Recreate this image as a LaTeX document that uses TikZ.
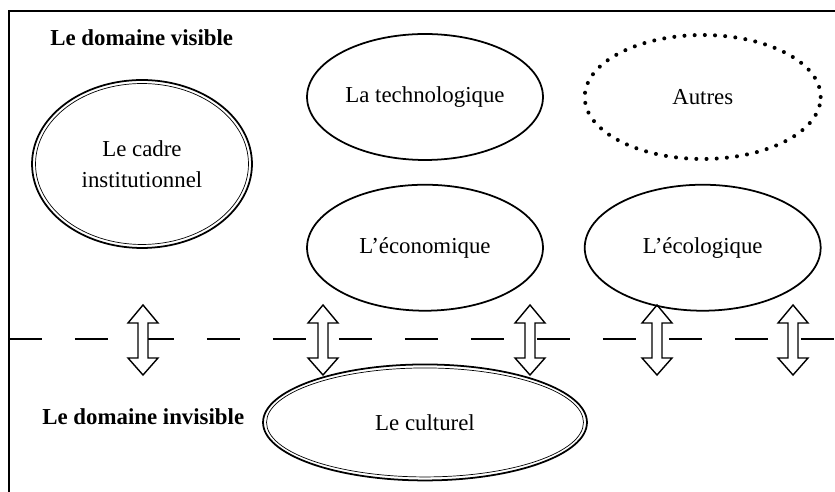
\documentclass[tikz,border=0pt]{standalone}
\usepackage{fontspec}
\setmainfont{Liberation Serif}
\usetikzlibrary{shapes.geometric,positioning}
\pgfmathsetmacro{\ellgap}{0.46}
\pgfmathsetmacro{\ellsep}{0.8}
\tikzset{
  field/.style={ellipse, draw, line width=1pt, inner sep=0pt,
    minimum width=4.72cm, minimum height=2.52cm,
    font=\fontsize{13}{17.6}\selectfont, align=center},
  title/.style={font=\fontsize{13}{15}\selectfont\bfseries, inner sep=0pt},
  sepline/.style={line width=0.75pt, dash pattern=on 0.66cm off 0.66cm},
  twoway/.style={line width=0.8pt, fill=white, line join=miter},
  innerline/.style={line width=0.4pt},
}

\begin{document}
\begin{tikzpicture}[x=0.02cm, y=-0.02cm]
    % page size
    \useasboundingbox (0,0) rectangle (835,492);
    % frame
    \coordinate (frame_tr) at (835,11);
    \coordinate (frame_tl) at (9,11);
    \coordinate (frame_bl) at (9,492);
    \draw[line width=0.9pt] (frame_tr) -- (frame_tl) -- (frame_bl);
    % line between the two domains
    \coordinate (sep_l) at (9,339);
    \coordinate (sep_r) at (835,339);
    \draw[sepline] (sep_l) -- (sep_r);
    % arrows across the line
    \foreach \x in {143,323,530,657,793} {
        \draw[twoway] (\x,305) -- ++(15,18) -- ++(-10,0) -- ++(0,35)
            -- ++(10,0) -- ++(-15,17) -- ++(-15,-17) -- ++(10,0)
            -- ++(0,-35) -- ++(-10,0) -- cycle;
    }
    % domain labels
    \node[title, anchor=base west] (visible_lbl) at (50,46) {Le domaine visible};
    \node[title, anchor=base west] (invisible_lbl) at (42,425) {Le domaine invisible};
    % ellipses
    \node[field, minimum width=4.4cm, minimum height=3.36cm] (cadre) at (142,164)
        {Le cadre\\institutionnel};
    \draw[innerline] (cadre.center) ellipse [x radius=2.13cm, y radius=1.61cm];
    \node[field] (techno) at (425,97) {La technologique};
    \node[field, below=\ellgap cm of techno] (econ) {L’économique};
    \node[field, right=\ellsep cm of econ] (ecolo) {L’écologique};
    \node[field, above=\ellgap cm of ecolo, draw=none] (autres) {Autres};
    \draw[line width=2.3pt, line cap=round, dash pattern=on 0pt off 5.8pt]
        (autres.center) ellipse [x radius=2.36cm, y radius=1.24cm];
    \node[field, below=1.04cm of econ, minimum width=6.48cm, minimum height=2.32cm]
        (culture) {Le culturel};
    \draw[innerline] (culture.center) ellipse [x radius=3.17cm, y radius=1.09cm];
\end{tikzpicture}
\end{document}
